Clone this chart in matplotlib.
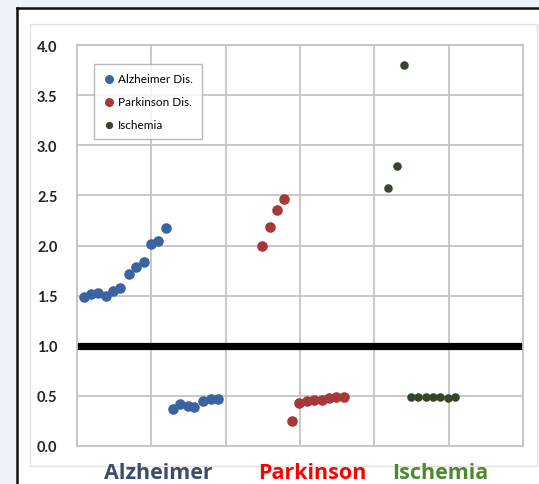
import matplotlib
matplotlib.use("Agg")
import matplotlib.pyplot as plt
from matplotlib.patches import Rectangle
from matplotlib.lines import Line2D

# ---- data ----
alz_x = [0.09, 0.19, 0.28, 0.39, 0.49, 0.58, 0.70, 0.80, 0.90, 0.99, 1.09, 1.20,
         1.29, 1.39, 1.49, 1.58, 1.69, 1.80, 1.90]
alz_y = [1.49, 1.52, 1.53, 1.50, 1.55, 1.58, 1.72, 1.79, 1.84, 2.01, 2.04, 2.17,
         0.37, 0.42, 0.40, 0.39, 0.45, 0.47, 0.47]
park_x = [2.49, 2.59, 2.69, 2.78, 2.89, 2.98, 3.09, 3.19, 3.29, 3.39, 3.49, 3.59]
park_y = [2.00, 2.18, 2.35, 2.46, 0.25, 0.43, 0.45, 0.46, 0.46, 0.48, 0.49, 0.49]
isch_x = [4.18, 4.30, 4.40, 4.49, 4.59, 4.69, 4.79, 4.89, 4.99, 5.09]
isch_y = [2.57, 2.79, 3.80, 0.49, 0.49, 0.49, 0.49, 0.49, 0.48, 0.49]
series_names = ["Alzheimer Dis.", "Parkinson Dis.", "Ischemia"]
categories = ["Alzheimer", "Parkinson", "Ischemia"]
y_ticks = [0.0, 0.5, 1.0, 1.5, 2.0, 2.5, 3.0, 3.5, 4.0]
threshold = 1.0

W, H = 539, 485
fig = plt.figure(figsize=(W / 100, H / 100), dpi=100)
fig.patch.set_facecolor("#EEF2F9")

def fx(px):
    return px / W

def fy(py):
    return 1 - py / H

# white panel with dark top/left edge
fig.patches.append(Rectangle((fx(17), 0), 1 - fx(17) + 0.01, fy(9), transform=fig.transFigure,
                             facecolor="white", edgecolor="none", zorder=-2))
fig.add_artist(Line2D([fx(17), fx(17)], [0, fy(9)], transform=fig.transFigure, color="#111111", lw=1.8, zorder=-1))
fig.add_artist(Line2D([fx(17), 1], [fy(9), fy(9)], transform=fig.transFigure, color="#111111", lw=1.8, zorder=-1))
# chart area border
fig.patches.append(Rectangle((fx(30), fy(467)), fx(537) - fx(30), fy(25) - fy(467),
                             transform=fig.transFigure, facecolor="white",
                             edgecolor="#E2E2E2", lw=1.0, zorder=-1))

ax = fig.add_axes([fx(77), fy(447), fx(523) - fx(77), fy(46) - fy(447)])
ax.set_zorder(2)
ax.set_xlim(0, 6)
ax.set_ylim(0, 4)
ax.set_xticks(range(0, 7))
ax.set_xticklabels([])
ax.set_yticks(y_ticks)
ax.set_yticklabels([f"{v:.1f}" for v in y_ticks], fontsize=10.5, fontweight="bold",
                   family=["Lato", "DejaVu Sans"], color="#222222")
ax.tick_params(length=0, pad=14)
ax.grid(True, color="#C4C4C4", lw=1.3)
ax.set_axisbelow(True)
for s in ax.spines.values():
    s.set_color("#C4C4C4")
    s.set_linewidth(1.3)

ax.axhline(threshold, color="black", lw=5.2, zorder=2)

ax.scatter(alz_x, alz_y, s=58, color="#3A63A2", zorder=3, label=series_names[0], linewidths=0)
ax.scatter(park_x, park_y, s=58, color="#A8373A", zorder=3, label=series_names[1], linewidths=0)
ax.scatter(isch_x, isch_y, s=38, color="#37452A", zorder=3, label=series_names[2], linewidths=0)

leg = ax.legend(loc="upper left", bbox_to_anchor=(0.038, 0.953), borderaxespad=0,
                frameon=True, fancybox=False, shadow=False, prop={"family": "Lato", "size": 8.5},
                labelspacing=1.0, handletextpad=0.25, handlelength=1.0, markerscale=0.85,
                borderpad=0.8)
leg.get_frame().set_edgecolor("#A8A8A8")
leg.get_frame().set_linewidth(1.0)

cat_colors = ["#3E4C66", "#FF0000", "#4E8A2C"]
cat_x = [158, 312, 440]
for name, c, x in zip(categories, cat_colors, cat_x):
    fig.text(fx(x), fy(474), name, ha="center", va="center", fontsize=15.5,
             fontweight="bold", color=c, family=["Open Sans", "DejaVu Sans"], zorder=3)

fig.savefig("out.png", dpi=100, facecolor=fig.get_facecolor())
